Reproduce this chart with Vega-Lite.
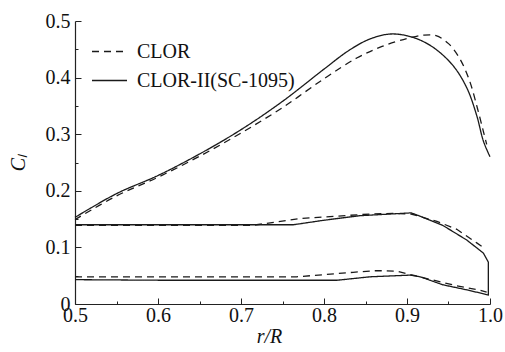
{
  "$schema": "https://vega.github.io/schema/vega-lite/v6.json",
  "width": 415,
  "height": 283,
  "autosize": {"type": "none"},
  "padding": {"left": 75, "top": 21, "right": 15, "bottom": 48},
  "background": "white",
  "config": {
    "view": {"stroke": null},
    "font": "Liberation Serif",
    "axis": {
      "domainColor": "#222",
      "domainWidth": 1.2,
      "tickColor": "#222",
      "tickWidth": 1,
      "grid": false,
      "labelFont": "Liberation Serif",
      "labelFontSize": 20,
      "labelColor": "#111",
      "titleFont": "Liberation Serif",
      "titleFontSize": 20,
      "titleFontWeight": "normal",
      "titleFontStyle": "italic",
      "titleColor": "#111"
    },
    "legend": {
      "labelFont": "Liberation Serif",
      "labelFontSize": 20,
      "labelColor": "#111"
    }
  },
  "data": {
    "values": [
      {"s": "CLOR", "c": "u", "i": 0, "x": 0.5, "y": 0.149},
      {"s": "CLOR", "c": "u", "i": 1, "x": 0.55, "y": 0.191},
      {"s": "CLOR", "c": "u", "i": 2, "x": 0.6, "y": 0.224},
      {"s": "CLOR", "c": "u", "i": 3, "x": 0.65, "y": 0.261},
      {"s": "CLOR", "c": "u", "i": 4, "x": 0.7, "y": 0.302},
      {"s": "CLOR", "c": "u", "i": 5, "x": 0.75, "y": 0.347},
      {"s": "CLOR", "c": "u", "i": 6, "x": 0.8, "y": 0.398},
      {"s": "CLOR", "c": "u", "i": 7, "x": 0.84, "y": 0.435},
      {"s": "CLOR", "c": "u", "i": 8, "x": 0.87, "y": 0.455},
      {"s": "CLOR", "c": "u", "i": 9, "x": 0.9, "y": 0.469},
      {"s": "CLOR", "c": "u", "i": 10, "x": 0.92, "y": 0.475},
      {"s": "CLOR", "c": "u", "i": 11, "x": 0.935, "y": 0.474},
      {"s": "CLOR", "c": "u", "i": 12, "x": 0.95, "y": 0.46},
      {"s": "CLOR", "c": "u", "i": 13, "x": 0.963, "y": 0.435},
      {"s": "CLOR", "c": "u", "i": 14, "x": 0.975, "y": 0.396},
      {"s": "CLOR", "c": "u", "i": 15, "x": 0.985, "y": 0.345},
      {"s": "CLOR", "c": "u", "i": 16, "x": 0.992, "y": 0.305},
      {"s": "CLOR", "c": "u", "i": 17, "x": 0.996, "y": 0.282},

      {"s": "CLOR", "c": "m", "i": 0, "x": 0.5, "y": 0.139},
      {"s": "CLOR", "c": "m", "i": 1, "x": 0.714, "y": 0.139},
      {"s": "CLOR", "c": "m", "i": 2, "x": 0.771, "y": 0.151},
      {"s": "CLOR", "c": "m", "i": 3, "x": 0.855, "y": 0.159},
      {"s": "CLOR", "c": "m", "i": 4, "x": 0.883, "y": 0.16},
      {"s": "CLOR", "c": "m", "i": 5, "x": 0.905, "y": 0.159},
      {"s": "CLOR", "c": "m", "i": 6, "x": 0.936, "y": 0.146},
      {"s": "CLOR", "c": "m", "i": 7, "x": 0.96, "y": 0.132},
      {"s": "CLOR", "c": "m", "i": 8, "x": 0.984, "y": 0.108},
      {"s": "CLOR", "c": "m", "i": 9, "x": 0.99, "y": 0.102},

      {"s": "CLOR", "c": "b", "i": 0, "x": 0.5, "y": 0.048},
      {"s": "CLOR", "c": "b", "i": 1, "x": 0.767, "y": 0.048},
      {"s": "CLOR", "c": "b", "i": 2, "x": 0.835, "y": 0.056},
      {"s": "CLOR", "c": "b", "i": 3, "x": 0.864, "y": 0.059},
      {"s": "CLOR", "c": "b", "i": 4, "x": 0.888, "y": 0.058},
      {"s": "CLOR", "c": "b", "i": 5, "x": 0.907, "y": 0.051},
      {"s": "CLOR", "c": "b", "i": 6, "x": 0.96, "y": 0.032},
      {"s": "CLOR", "c": "b", "i": 7, "x": 0.986, "y": 0.025},
      {"s": "CLOR", "c": "b", "i": 8, "x": 0.996, "y": 0.021},

      {"s": "CLOR-II(SC-1095)", "c": "u", "i": 0, "x": 0.5, "y": 0.153},
      {"s": "CLOR-II(SC-1095)", "c": "u", "i": 1, "x": 0.55, "y": 0.195},
      {"s": "CLOR-II(SC-1095)", "c": "u", "i": 2, "x": 0.6, "y": 0.227},
      {"s": "CLOR-II(SC-1095)", "c": "u", "i": 3, "x": 0.65, "y": 0.265},
      {"s": "CLOR-II(SC-1095)", "c": "u", "i": 4, "x": 0.7, "y": 0.308},
      {"s": "CLOR-II(SC-1095)", "c": "u", "i": 5, "x": 0.75, "y": 0.358},
      {"s": "CLOR-II(SC-1095)", "c": "u", "i": 6, "x": 0.8, "y": 0.415},
      {"s": "CLOR-II(SC-1095)", "c": "u", "i": 7, "x": 0.83, "y": 0.448},
      {"s": "CLOR-II(SC-1095)", "c": "u", "i": 8, "x": 0.855, "y": 0.468},
      {"s": "CLOR-II(SC-1095)", "c": "u", "i": 9, "x": 0.88, "y": 0.477},
      {"s": "CLOR-II(SC-1095)", "c": "u", "i": 10, "x": 0.905, "y": 0.472},
      {"s": "CLOR-II(SC-1095)", "c": "u", "i": 11, "x": 0.93, "y": 0.455},
      {"s": "CLOR-II(SC-1095)", "c": "u", "i": 12, "x": 0.955, "y": 0.422},
      {"s": "CLOR-II(SC-1095)", "c": "u", "i": 13, "x": 0.972, "y": 0.382},
      {"s": "CLOR-II(SC-1095)", "c": "u", "i": 14, "x": 0.984, "y": 0.333},
      {"s": "CLOR-II(SC-1095)", "c": "u", "i": 15, "x": 0.992, "y": 0.288},
      {"s": "CLOR-II(SC-1095)", "c": "u", "i": 16, "x": 1.0, "y": 0.26},

      {"s": "CLOR-II(SC-1095)", "c": "l", "i": 0, "x": 0.5, "y": 0.14},
      {"s": "CLOR-II(SC-1095)", "c": "l", "i": 1, "x": 0.763, "y": 0.14},
      {"s": "CLOR-II(SC-1095)", "c": "l", "i": 2, "x": 0.8, "y": 0.148},
      {"s": "CLOR-II(SC-1095)", "c": "l", "i": 3, "x": 0.843, "y": 0.156},
      {"s": "CLOR-II(SC-1095)", "c": "l", "i": 4, "x": 0.905, "y": 0.161},
      {"s": "CLOR-II(SC-1095)", "c": "l", "i": 5, "x": 0.916, "y": 0.155},
      {"s": "CLOR-II(SC-1095)", "c": "l", "i": 6, "x": 0.943, "y": 0.139},
      {"s": "CLOR-II(SC-1095)", "c": "l", "i": 7, "x": 0.972, "y": 0.113},
      {"s": "CLOR-II(SC-1095)", "c": "l", "i": 8, "x": 0.992, "y": 0.09},
      {"s": "CLOR-II(SC-1095)", "c": "l", "i": 9, "x": 0.998, "y": 0.074},
      {"s": "CLOR-II(SC-1095)", "c": "l", "i": 10, "x": 0.998, "y": 0.016},
      {"s": "CLOR-II(SC-1095)", "c": "l", "i": 11, "x": 0.972, "y": 0.025},
      {"s": "CLOR-II(SC-1095)", "c": "l", "i": 12, "x": 0.943, "y": 0.034},
      {"s": "CLOR-II(SC-1095)", "c": "l", "i": 13, "x": 0.916, "y": 0.048},
      {"s": "CLOR-II(SC-1095)", "c": "l", "i": 14, "x": 0.904, "y": 0.051},
      {"s": "CLOR-II(SC-1095)", "c": "l", "i": 15, "x": 0.855, "y": 0.048},
      {"s": "CLOR-II(SC-1095)", "c": "l", "i": 16, "x": 0.816, "y": 0.042},
      {"s": "CLOR-II(SC-1095)", "c": "l", "i": 17, "x": 0.6, "y": 0.042},
      {"s": "CLOR-II(SC-1095)", "c": "l", "i": 18, "x": 0.5, "y": 0.043}
    ]
  },
  "encoding": {
    "x": {
      "field": "x",
      "type": "quantitative",
      "scale": {"domain": [0.5, 1.0], "nice": false, "zero": false},
      "axis": {
        "title": "r/R",
        "titleX": 194,
        "titlePadding": -2,
        "values": [0.5, 0.55, 0.6, 0.65, 0.7, 0.75, 0.8, 0.85, 0.9, 0.95, 1.0],
        "labelExpr": "abs(datum.value*10 - round(datum.value*10)) < 0.001 ? format(datum.value, '.1f') : ''",
        "tickSize": {"condition": {"test": "abs(datum.value*10 - round(datum.value*10)) < 0.001", "value": -6}, "value": -3},
        "labelPadding": 7,
        "labelFlush": false,
        "labelOverlap": false
      }
    },
    "y": {
      "field": "y",
      "type": "quantitative",
      "scale": {"domain": [0, 0.5], "nice": false},
      "axis": {
        "title": "Cₗ",
        "titlePadding": 17,
        "values": [0, 0.05, 0.1, 0.15, 0.2, 0.25, 0.3, 0.35, 0.4, 0.45, 0.5],
        "labelExpr": "abs(datum.value*10 - round(datum.value*10)) < 0.001 ? (datum.value == 0 ? '0' : format(datum.value, '.1f')) : ''",
        "tickSize": {"condition": {"test": "abs(datum.value*10 - round(datum.value*10)) < 0.001", "value": -6}, "value": -3},
        "labelPadding": 11,
        "labelFlush": false,
        "labelOverlap": false
      }
    },
    "strokeDash": {
      "field": "s",
      "type": "nominal",
      "scale": {"domain": ["CLOR", "CLOR-II(SC-1095)"], "range": [[7, 5], [1, 0]]},
      "legend": {
        "title": null,
        "orient": "none",
        "legendX": 16,
        "legendY": 12,
        "symbolType": "stroke",
        "symbolSize": 1225,
        "symbolStrokeWidth": 1.3,
        "symbolStrokeColor": "#1a1a1a",
        "labelOffset": 9,
        "rowPadding": -9
      }
    },
    "detail": {"field": "c"},
    "order": {"field": "i", "type": "quantitative"}
  },
  "layer": [
    {
      "transform": [{"filter": "datum.c == 'u'"}],
      "mark": {"type": "line", "color": "#1a1a1a", "strokeWidth": 1.3, "clip": false, "interpolate": "catmull-rom"}
    },
    {
      "transform": [{"filter": "datum.c != 'u'"}],
      "mark": {"type": "line", "color": "#1a1a1a", "strokeWidth": 1.3, "clip": false}
    }
  ]
}
